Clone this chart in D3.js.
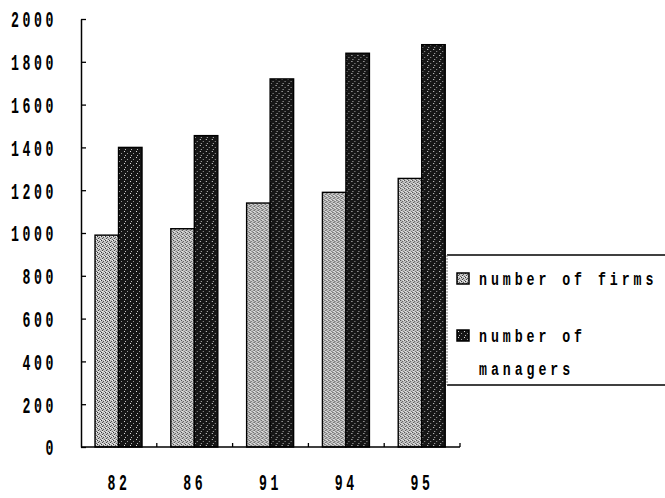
<!DOCTYPE html>
<html>
<head>
<meta charset="utf-8">
<script src="https://cdn.jsdelivr.net/npm/d3@7"></script>
<style>
    body { margin: 0; background: #fff; }
    svg { display: block; }
</style>
</head>
<body>
<script>
// values
const years = ["82", "86", "91", "94", "95"];
const firms = [990, 1020, 1140, 1190, 1255];
const managers = [1400, 1455, 1720, 1840, 1880];
const yTicks = [0, 200, 400, 600, 800, 1000, 1200, 1400, 1600, 1800, 2000];
const seriesKeys = ["firms", "managers"];
const legendLines = [["number of firms"], ["number of", "managers"]];

var width = 665;
var height = 498;

var svg = d3.select("body")
    .append("svg")
    .attr("width", width)
    .attr("height", height);

// textures for the two series
var defs = svg.append("defs");

var pFirms = defs.append("pattern")
    .attr("id", "pat-firms")
    .attr("patternUnits", "userSpaceOnUse")
    .attr("width", 4)
    .attr("height", 4);
pFirms.append("rect").attr("width", 4).attr("height", 4).attr("fill", "#c4c4c4");
pFirms.append("rect").attr("x", 0).attr("y", 0).attr("width", 1).attr("height", 1).attr("fill", "#333");
pFirms.append("rect").attr("x", 2).attr("y", 1).attr("width", 1).attr("height", 1).attr("fill", "#555");
pFirms.append("rect").attr("x", 1).attr("y", 2).attr("width", 1).attr("height", 1).attr("fill", "#444");
pFirms.append("rect").attr("x", 3).attr("y", 3).attr("width", 1).attr("height", 1).attr("fill", "#666");
pFirms.append("rect").attr("x", 3).attr("y", 0).attr("width", 1).attr("height", 1).attr("fill", "#f2f2f2");
pFirms.append("rect").attr("x", 1).attr("y", 3).attr("width", 1).attr("height", 1).attr("fill", "#eee");

var pMan = defs.append("pattern")
    .attr("id", "pat-managers")
    .attr("patternUnits", "userSpaceOnUse")
    .attr("width", 6)
    .attr("height", 6);
pMan.append("rect").attr("width", 6).attr("height", 6).attr("fill", "#161616");
pMan.append("rect").attr("x", 1).attr("y", 1).attr("width", 1).attr("height", 1).attr("fill", "#ddd");
pMan.append("rect").attr("x", 4).attr("y", 3).attr("width", 1).attr("height", 1).attr("fill", "#999");
pMan.append("rect").attr("x", 2).attr("y", 5).attr("width", 1).attr("height", 1).attr("fill", "#bbb");

const fills = {firms: "url(#pat-firms)", managers: "url(#pat-managers)"};
const values = {firms: firms, managers: managers};

var plotLeft = 81, plotRight = 460, plotTop = 19, plotBottom = 447;

const x = d3.scaleBand()
    .domain(years)
    .range([plotLeft, plotRight])
    .padding(0);

const xs = d3.scaleBand()
    .domain(seriesKeys)
    .range([x.bandwidth() * 0.185, x.bandwidth() * 0.805]);

const y = d3.scaleLinear()
    .domain([0, 2000])
    .range([plotBottom, plotTop]);

// bars
var groups = svg.selectAll("g.year")
    .data(years)
    .enter()
    .append("g")
    .attr("class", "year")
    .attr("transform", d => `translate(${x(d)}, 0)`);

groups.selectAll("rect")
    .data((d, i) => seriesKeys.map(k => ({key: k, value: values[k][i]})))
    .enter()
    .append("rect")
    .attr("x", d => xs(d.key))
    .attr("y", d => y(d.value))
    .attr("width", xs.bandwidth())
    .attr("height", d => plotBottom - y(d.value))
    .attr("fill", d => fills[d.key])
    .attr("stroke", "#000")
    .attr("stroke-width", 1.4);

// y axis, ticks pointing inward
var yAxis = d3.axisLeft(y)
    .tickValues(yTicks)
    .tickFormat(d3.format("d"))
    .tickSizeInner(-5)
    .tickSizeOuter(0)
    .tickPadding(0);

var sx = 0.6;
var yg = svg.append("g")
    .attr("transform", `translate(${plotLeft}, 0)`)
    .call(yAxis);
yg.select(".domain").attr("stroke", "#000").attr("stroke-width", 1.5);
yg.selectAll(".tick line").attr("stroke", "#000").attr("stroke-width", 1.3);
yg.selectAll(".tick text")
    .attr("transform", `scale(${sx},1)`)
    .attr("x", -24 / sx)
    .attr("dy", "0.36em")
    .attr("fill", "#000")
    .style("font-family", "'Liberation Mono', monospace")
    .style("font-weight", "bold")
    .style("font-size", "22px")
    .style("letter-spacing", "6px");

// x axis: baseline with small upward ticks between groups
var xg = svg.append("g");
xg.append("line")
    .attr("x1", plotLeft)
    .attr("x2", plotRight)
    .attr("y1", plotBottom)
    .attr("y2", plotBottom)
    .attr("stroke", "#000")
    .attr("stroke-width", 1.5);
xg.selectAll("line.tk")
    .data(years.slice(1).map(d => x(d)).concat([plotRight]))
    .enter()
    .append("line")
    .attr("class", "tk")
    .attr("x1", d => d)
    .attr("x2", d => d)
    .attr("y1", plotBottom)
    .attr("y2", plotBottom - 4)
    .attr("stroke", "#000")
    .attr("stroke-width", 1.3);

xg.selectAll("text")
    .data(years)
    .enter()
    .append("text")
    .attr("transform", d => `translate(${x(d) + x.bandwidth() / 2}, 490) scale(${sx},1)`)
    .attr("text-anchor", "middle")
    .attr("fill", "#000")
    .style("font-family", "'Liberation Mono', monospace")
    .style("font-weight", "bold")
    .style("font-size", "22px")
    .style("letter-spacing", "6px")
    .text(d => d);

// legend
var lg = svg.append("g").attr("transform", "translate(447, 255)");
lg.append("line")
    .attr("x1", 0).attr("x2", 230).attr("y1", 0).attr("y2", 0)
    .attr("stroke", "#000").attr("stroke-width", 1.5);
lg.append("line")
    .attr("x1", 0).attr("x2", 230).attr("y1", 130).attr("y2", 130)
    .attr("stroke", "#000").attr("stroke-width", 1.5);
lg.append("line")
    .attr("x1", 0).attr("x2", 0).attr("y1", 0).attr("y2", 130)
    .attr("stroke", "#777").attr("stroke-width", 1)
    .attr("stroke-dasharray", "2,1");

var item = lg.selectAll("g.item")
    .data(seriesKeys)
    .enter()
    .append("g")
    .attr("class", "item")
    .attr("transform", (d, i) => `translate(10, ${18 + i * 57})`);

item.append("rect")
    .attr("width", 12)
    .attr("height", 11)
    .attr("fill", d => fills[d])
    .attr("stroke", "#000")
    .attr("stroke-width", 1.5);

var lsx = 0.7;
item.each(function (d, i) {
    d3.select(this).selectAll("text")
        .data(legendLines[i])
        .enter()
        .append("text")
        .attr("transform", (t, j) => `translate(22, ${12 + j * 33}) scale(${lsx},1)`)
        .attr("fill", "#000")
        .style("font-family", "'Liberation Mono', monospace")
        .style("font-weight", "bold")
        .style("font-size", "19px")
        .style("letter-spacing", "5.6px")
        .text(t => t);
});
</script>
</body>
</html>
